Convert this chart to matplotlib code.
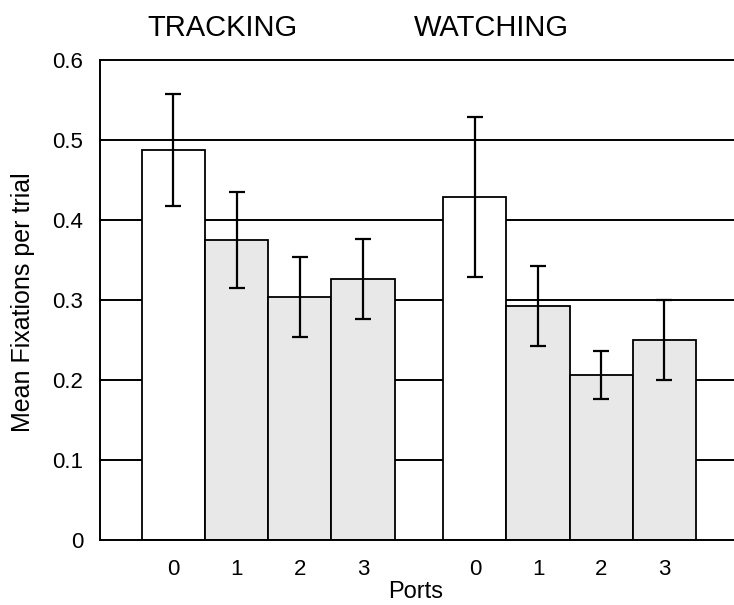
import matplotlib
matplotlib.use("Agg")
import matplotlib.pyplot as plt
import numpy as np

plt.rcParams['font.family'] = ['Liberation Sans', 'DejaVu Sans']

ports = ["0", "1", "2", "3"]
tracking_mean = [0.488, 0.375, 0.304, 0.326]
tracking_err = [0.070, 0.060, 0.050, 0.050]
watching_mean = [0.429, 0.293, 0.206, 0.250]
watching_err = [0.100, 0.050, 0.030, 0.050]
group_titles = ["TRACKING", "WATCHING"]
yticks = [0, 0.1, 0.2, 0.3, 0.4, 0.5, 0.6]

fig = plt.figure(figsize=(7.34, 6.05), dpi=100)
ax = fig.add_axes([100 / 734, 65 / 605, 634 / 734, 480 / 605])

group_offset = 4.77
x_track = np.arange(len(ports))
x_watch = x_track + group_offset
colors = ["white", "#e8e8e8", "#e8e8e8", "#e8e8e8"]

for xs, means, errs in [(x_track, tracking_mean, tracking_err),
                        (x_watch, watching_mean, watching_err)]:
    ax.bar(xs, means, width=1.0, color=colors, edgecolor="black",
           linewidth=1.3, zorder=2)
    ax.errorbar(xs, means, yerr=errs, fmt="none", ecolor="black",
                elinewidth=1.6, capsize=6, capthick=1.6, zorder=3)

ax.set_xlim(-1.16, group_offset + 3.5 + 0.6)
ax.set_ylim(0, 0.6)
ax.set_yticks(yticks)
ax.set_yticklabels(["0", "0.1", "0.2", "0.3", "0.4", "0.5", "0.6"], fontsize=16)
for y in yticks[1:]:
    ax.axhline(y, color="black", linewidth=1.4, zorder=1, clip_on=False)

ax.set_xticks(np.concatenate([x_track, x_watch]))
ax.set_xticklabels(ports + ports, fontsize=16)
ax.tick_params(axis="both", length=0)
ax.tick_params(axis="y", pad=12)
ax.tick_params(axis="x", pad=14)

for side in ["top", "right"]:
    ax.spines[side].set_visible(False)
ax.spines["left"].set_linewidth(1.4)
ax.spines["bottom"].set_linewidth(1.4)

fig.text(23 / 734, 1 - 302 / 605, "Mean Fixations per trial", rotation=90,
         ha="center", va="center", fontsize=18)
fig.text(416 / 734, 2 / 605, "Ports", ha="center", va="bottom", fontsize=17)
fig.text(222 / 734, 1 - 28 / 605, group_titles[0], ha="center", va="center", fontsize=21)
fig.text(491 / 734, 1 - 28 / 605, group_titles[1], ha="center", va="center", fontsize=21)

fig.savefig("out.png", dpi=100)
